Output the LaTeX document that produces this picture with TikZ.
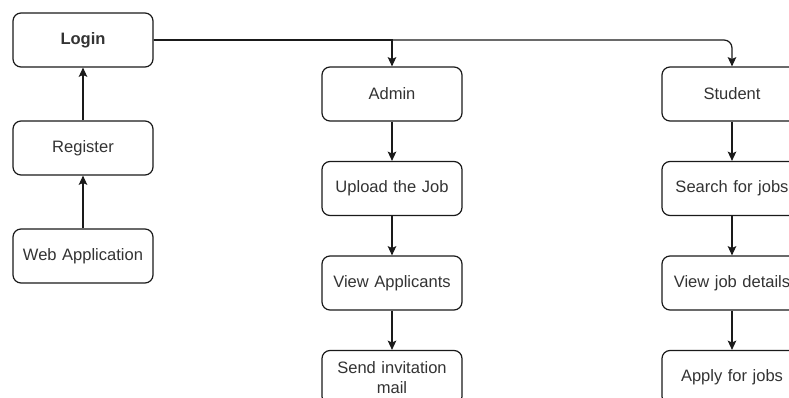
\documentclass[tikz,border=0pt]{standalone}
\usepackage{fontspec}
\setmainfont{Liberation Sans}
\usetikzlibrary{arrows.meta}
\definecolor{txt}{HTML}{333333}
\definecolor{ln}{HTML}{1A1A1A}
\begin{document}
\begin{tikzpicture}[x=0.75pt,y=-0.75pt,
  box/.style={draw=ln, line width=0.9pt, rounded corners=6pt, fill=white,
    minimum width=105pt, minimum height=40.5pt, inner sep=2pt,
    text width=100pt, align=center, font=\fontsize{12.4pt}{14.5pt}\selectfont, text=txt},
  arr/.style={draw=ln, line width=0.9pt, -{Stealth[length=7pt,width=6.5pt,inset=1.5pt]}}]
\useasboundingbox (0,0) rectangle (789,398);
\clip (0,0) rectangle (789,398);
\node[box, font=\bfseries\fontsize{12.4pt}{14.5pt}\selectfont] (login) at (83,40) {Login};
\node[box] (register) at (83,148) {Register};
\node[box] (web) at (83,256) {Web Application};
\node[box] (admin) at (392,94) {Admin};
\node[box] (upload) at (392,188.5) {Upload the Job};
\node[box] (viewapp) at (392,283) {View Applicants};
\node[box] (send) at (392,377.5) {Send invitation\\mail};
\node[box] (student) at (732,94) {Student};
\node[box] (search) at (732,188.5) {Search for jobs};
\node[box] (viewjob) at (732,283) {View job details};
\node[box] (apply) at (732,377.5) {Apply for jobs};
\draw[arr] (web) -- (register);
\draw[arr] (register) -- (login);
\draw[arr] (login) -| (admin);
\draw[arr, rounded corners=6pt] (login) -| (student);
\draw[arr] (admin) -- (upload);
\draw[arr] (upload) -- (viewapp);
\draw[arr] (viewapp) -- (send);
\draw[arr] (student) -- (search);
\draw[arr] (search) -- (viewjob);
\draw[arr] (viewjob) -- (apply);
\end{tikzpicture}
\end{document}
